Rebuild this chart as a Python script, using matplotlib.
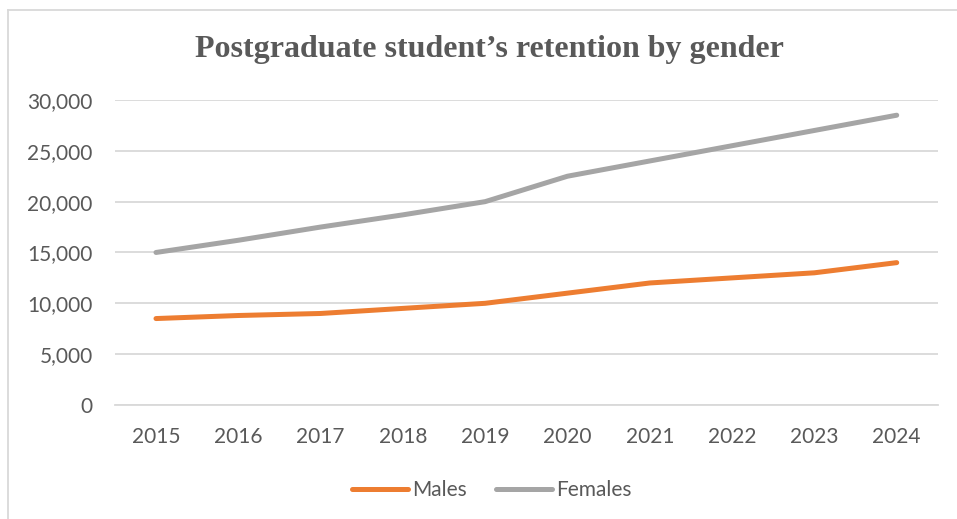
import numpy as np
import matplotlib
matplotlib.use("Agg")
import matplotlib.pyplot as plt
from matplotlib.lines import Line2D
from matplotlib.ticker import FuncFormatter

years = ["2015", "2016", "2017", "2018", "2019", "2020", "2021", "2022", "2023", "2024"]
males = [8500, 8800, 9000, 9500, 10000, 11000, 12000, 12500, 13000, 14000]
females = [15000, 16200, 17500, 18700, 20000, 22500, 24000, 25500, 27000, 28500]

txt_col = "#595959"
grid_col = "#D9D9D9"

fig = plt.figure(figsize=(9.57, 5.19), dpi=100)
ax = fig.add_axes([0.120, 0.2197, 0.860, 0.5877])

x = np.arange(len(years))
ax.plot(x, males, color="#ED7D31", lw=3.6, solid_capstyle="round", label="Males")
ax.plot(x, females, color="#A5A5A5", lw=3.6, solid_capstyle="round", label="Females")

ax.set_xlim(-0.5, len(years) - 0.5)
ax.set_ylim(0, 30000)
ax.set_yticks(np.arange(0, 30001, 5000))
ax.yaxis.set_major_formatter(FuncFormatter(lambda v, p: f"{int(v):,}"))
ax.set_xticks(x)
ax.set_xticklabels(years)
ax.grid(axis="y", color=grid_col, lw=1.3)
ax.set_axisbelow(True)
for s in ["top", "right", "left"]:
    ax.spines[s].set_visible(False)
ax.spines["bottom"].set_color(grid_col)
ax.spines["bottom"].set_linewidth(1.3)
ax.tick_params(length=0, labelsize=15, labelcolor=txt_col)
ax.tick_params(axis="y", pad=16)
ax.tick_params(axis="x", pad=16)
for lab in ax.get_xticklabels() + ax.get_yticklabels():
    lab.set_fontfamily("Lato")

fig.text(0.511, 0.905, "Postgraduate student\u2019s retention by gender",
         ha="center", va="center", fontsize=23, fontweight="bold",
         family="Liberation Serif", color=txt_col)

leg = fig.legend(loc="center", bbox_to_anchor=(0.514, 0.056), ncol=2, frameon=False,
                 prop={"family": "Lato", "size": 15}, handlelength=2.7,
                 handletextpad=0.2, columnspacing=1.4)
for t in leg.get_texts():
    t.set_color(txt_col)

# chart frame (only left and top edges show in the crop)
fig.add_artist(Line2D([0.0085, 0.0085], [0.0, 0.981], color="#D9D9D9", lw=1.3, transform=fig.transFigure))
fig.add_artist(Line2D([0.0085, 1.0], [0.981, 0.981], color="#D9D9D9", lw=1.3, transform=fig.transFigure))

fig.savefig("out.png", dpi=100, facecolor="white")
